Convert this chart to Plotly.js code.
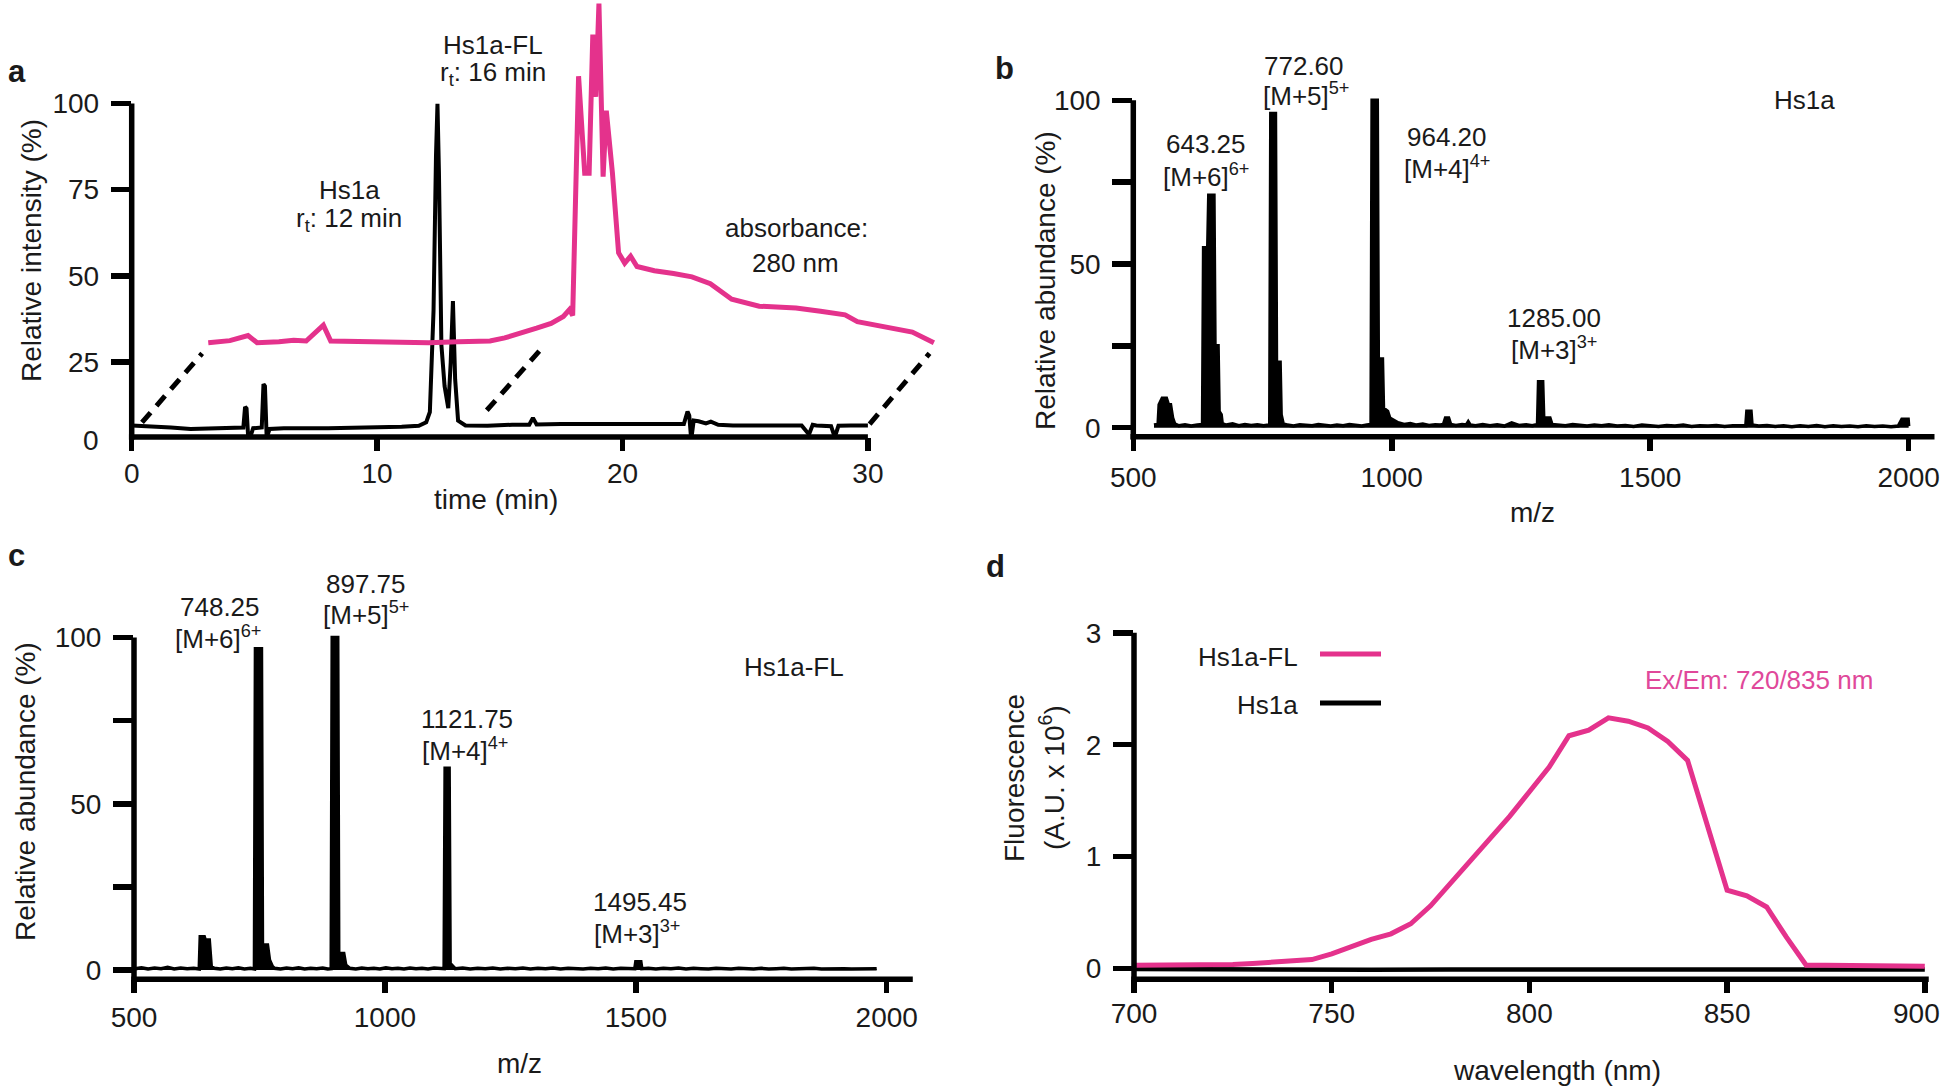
<!DOCTYPE html>
<html><head><meta charset="utf-8">
<script src="https://cdn.plot.ly/plotly-3.0.1.min.js"></script>
<style>html,body{margin:0;padding:0;background:#fff;}#chart{width:1946px;height:1088px;}</style>
</head><body><div id="chart"></div>
<script>
// ---------- Panel a: HPLC chromatogram ----------
const timeA = [0, 0.8, 1.6, 2.4, 3.2, 4.0, 4.55, 4.62, 4.68, 4.74, 4.82, 4.95, 5.2, 5.3, 5.37, 5.43, 5.5, 5.62, 6.2, 7.0, 8.0, 9.0, 10.0, 11.0, 11.7, 12.0, 12.15, 12.3, 12.4, 12.46, 12.52, 12.62, 12.75, 12.9, 13.0, 13.09, 13.18, 13.3, 13.6, 14.5, 15.5, 16.2, 16.35, 16.5, 17.5, 18.5, 19.5, 20.5, 21.5, 22.5, 22.65, 22.72, 22.8, 22.9, 23.1, 23.4, 23.6, 23.9, 24.5, 25.5, 26.5, 27.3, 27.6, 27.75, 27.9, 28.2, 28.5, 28.65, 28.8, 29.3, 30.0];
const intensityA = [6.6, 6.4, 6.0, 5.6, 5.7, 5.9, 6.0, 12.0, 11.5, 4.0, 3.0, 5.8, 5.8, 6.0, 18.6, 18.0, 3.0, 5.6, 5.8, 5.7, 5.8, 5.9, 6.0, 6.2, 6.5, 7.5, 10.5, 40, 85, 99.9, 80, 30, 18, 11.6, 25, 42.7, 20, 8, 6.6, 6.5, 6.8, 6.8, 8.8, 6.9, 7.0, 7.0, 6.9, 7.0, 6.9, 7.0, 10.6, 9.5, 2.5, 8.0, 7.8, 7.2, 7.7, 6.8, 6.6, 6.5, 6.6, 6.6, 4.0, 6.8, 6.6, 6.6, 6.4, 3.2, 6.5, 6.6, 6.6];
// absorbance trace (drawn offset, as in the figure)
const timeAbs = [3.12, 4.0, 4.74, 5.11, 6.0, 6.6, 7.11, 7.81, 8.11, 9.61, 10.8, 11.5, 12.10, 13.3, 14.60, 15.2, 15.84, 16.5, 17.09, 17.59, 17.84, 17.97, 18.21, 18.46, 18.64, 18.79, 18.91, 19.04, 19.21, 19.34, 19.59, 19.84, 20.09, 20.33, 20.59, 21.3, 22.08, 22.83, 23.58, 24.45, 25.57, 27.07, 28.07, 29.07, 29.57, 30.82, 31.81, 32.69];
const absorbance = [30.6, 31.2, 32.7, 30.6, 30.9, 31.3, 31.1, 35.7, 31.1, 31.0, 31.0, 30.8, 30.6, 30.9, 31.1, 32.0, 33.2, 34.8, 36.2, 38.2, 40.2, 38.5, 107.9, 79.8, 79.8, 120.0, 101.9, 129.0, 78.8, 97.9, 79.8, 56.7, 53.7, 55.7, 52.7, 51.5, 50.7, 49.7, 47.7, 43.2, 41.2, 40.7, 39.7, 38.7, 36.7, 35.2, 33.7, 30.6];
const guideX = [[0.42, 2.87], [14.47, 16.84], [30.07, 32.51]];
const guideY = [[7.5, 27.5], [11.0, 30.0], [7.0, 27.5]];

// ---------- Panel b: Hs1a mass spectrum ----------
const mzB = [540, 546, 548, 550, 556, 564, 568, 572, 576, 580, 588, 600, 612, 624, 634, 636, 644, 646, 656, 658, 664, 666, 670, 672, 680, 692, 704, 716, 728, 740, 752, 762, 764, 766, 775, 777, 784, 786, 790, 798, 810, 822, 834, 846, 858, 870, 882, 894, 906, 918, 930, 942, 952, 960, 962, 972, 974, 982, 984, 992, 996, 1005, 1012, 1024, 1036, 1048, 1060, 1072, 1084, 1094, 1100, 1104, 1110, 1114, 1124, 1136, 1144, 1148, 1152, 1162, 1176, 1190, 1204, 1218, 1232, 1246, 1260, 1272, 1282, 1284, 1292, 1294, 1306, 1310, 1322, 1336, 1350, 1364, 1378, 1392, 1406, 1420, 1436, 1452, 1468, 1484, 1500, 1516, 1532, 1548, 1564, 1580, 1596, 1612, 1628, 1644, 1660, 1676, 1685, 1687, 1695, 1697, 1710, 1726, 1742, 1758, 1774, 1790, 1806, 1822, 1838, 1854, 1870, 1886, 1902, 1918, 1934, 1950, 1966, 1980, 1987, 1999, 2000];
const abundB = [0.8, 1.0, 1.0, 7, 9, 9, 7, 7, 3, 1.2, 0.6, 0.9, 0.5, 0.8, 1, 55, 55, 71, 71, 25, 25, 5, 4, 1.2, 0.8, 1.2, 0.6, 1.0, 0.7, 0.9, 0.6, 0.8, 1, 96, 96, 20, 20, 4, 1.2, 0.8, 0.5, 0.9, 0.7, 0.6, 1.0, 0.7, 0.5, 0.8, 0.6, 1.0, 0.7, 0.5, 0.8, 1, 100, 100, 21, 21, 6, 5, 3, 2, 1.5, 1.0, 1.3, 0.8, 1.1, 0.7, 0.9, 0.8, 1, 3, 3, 1, 0.7, 1.0, 0.8, 1.8, 0.8, 0.6, 1.0, 0.6, 0.9, 0.5, 1.5, 0.7, 0.9, 0.6, 1, 14, 14, 3, 3, 1, 0.8, 0.6, 1.0, 0.7, 0.5, 0.8, 0.6, 0.9, 0.5, 0.7, 0.4, 0.8, 0.6, 0.4, 0.7, 0.5, 0.8, 0.4, 0.6, 0.5, 0.7, 0.4, 0.6, 0.5, 0.6, 5, 5, 0.8, 0.5, 0.7, 0.4, 0.6, 0.3, 0.6, 0.4, 0.7, 0.3, 0.6, 0.4, 0.5, 0.3, 0.6, 0.4, 0.5, 0.3, 0.5, 2.6, 2.6, 0.5];

// ---------- Panel c: Hs1a-FL mass spectrum ----------
const mzC = [502, 515, 528, 541, 554, 567, 580, 593, 606, 619, 630, 632, 640, 642, 650, 654, 660, 672, 684, 696, 708, 720, 732, 740, 742, 754, 756, 766, 770, 776, 780, 792, 804, 816, 828, 840, 852, 864, 876, 886, 893, 895, 906, 908, 918, 922, 930, 942, 954, 966, 978, 990, 1002, 1014, 1026, 1038, 1050, 1062, 1074, 1086, 1098, 1110, 1118, 1120, 1128, 1130, 1136, 1140, 1155, 1170, 1185, 1200, 1215, 1230, 1245, 1260, 1275, 1290, 1305, 1320, 1335, 1350, 1365, 1380, 1395, 1410, 1425, 1440, 1455, 1470, 1485, 1498, 1500, 1510, 1512, 1525, 1540, 1555, 1570, 1585, 1600, 1615, 1630, 1645, 1660, 1675, 1690, 1705, 1720, 1735, 1750, 1765, 1780, 1795, 1810, 1825, 1840, 1855, 1870, 1885, 1900, 1915, 1930, 1945, 1960, 1980];
const abundC = [0.4, 0.7, 0.3, 0.6, 0.4, 0.8, 0.3, 0.6, 0.4, 0.5, 0.3, 10, 10, 9, 9, 1, 0.5, 0.3, 0.6, 0.4, 0.7, 0.3, 0.5, 0.3, 96.6, 96.6, 7.5, 7.5, 3, 1, 0.5, 0.3, 0.6, 0.4, 0.7, 0.3, 0.5, 0.4, 0.6, 0.3, 0.4, 100, 100, 5, 5, 1.5, 0.5, 0.3, 0.6, 0.4, 0.5, 0.3, 0.7, 0.4, 0.5, 0.3, 0.6, 0.4, 0.5, 0.3, 0.6, 0.4, 0.4, 60.7, 60.7, 2, 1, 0.4, 0.6, 0.3, 0.5, 0.4, 0.6, 0.3, 0.5, 0.4, 0.6, 0.3, 0.5, 0.4, 0.6, 0.3, 0.5, 0.4, 0.3, 0.5, 0.4, 0.6, 0.3, 0.5, 0.4, 0.4, 2.5, 2.5, 0.4, 0.5, 0.3, 0.5, 0.4, 0.6, 0.3, 0.5, 0.4, 0.3, 0.5, 0.4, 0.3, 0.5, 0.4, 0.3, 0.5, 0.3, 0.4, 0.5, 0.3, 0.4, 0.3, 0.5, 0.3, 0.4, 0.3, 0.4, 0.3, 0.4, 0.3, 0.4, 0.3];

// ---------- Panel d: fluorescence emission ----------
const wavelength = [700, 705, 710, 715, 720, 725, 730, 735, 740, 745, 750, 755, 760, 765, 770, 775, 780, 785, 790, 795, 800, 805, 810, 815, 820, 825, 830, 835, 840, 845, 850, 855, 860, 865, 870, 875, 880, 885, 890, 895, 900];
const fluorFL = [0.03, 0.03, 0.03, 0.035, 0.035, 0.035, 0.045, 0.055, 0.065, 0.08, 0.13, 0.2, 0.26, 0.31, 0.40, 0.56, 0.76, 0.96, 1.15, 1.36, 1.58, 1.80, 2.08, 2.13, 2.24, 2.21, 2.15, 2.03, 1.86, 1.27, 0.70, 0.65, 0.55, 0.28, 0.03, 0.03, 0.03, 0.03, 0.025, 0.02, 0.02];
const wavelengthHs1a = [700, 720, 740, 760, 780, 800, 820, 840, 860, 880, 900];
const fluorHs1a = [-0.005, -0.01, -0.01, -0.012, -0.01, -0.01, -0.008, -0.01, -0.008, -0.01, -0.01];
const wlTicksLabelled = [700, 750, 800, 850];
const wlTickLast = 900;

// ---------- layout helpers ----------
const W = 1946, H = 1088;
const px = x => x / W, py = y => 1 - y / H;
const PINK = '#E4328C', INK = '#1a1a1a';
const FONT = 'Liberation Sans, Arial, Helvetica, sans-serif';

// panel geometry (pixel positions of axis origin/scale)
const A = {x0: 131.7, sx: 24.54, y0: 448.2, sy: 3.447, axisY: 437, left: 131.7, right: 945, top: 0};
const B = {x0: 1133.3, sx: 0.5169, xv: 500, y0: 427.7, sy: 3.274, axisY: 436.7, right: 1946, top: 90};
const C = {x0: 134, sx: 0.5018, xv: 500, y0: 970, sy: 3.325, axisY: 979.3, right: 946, top: 620};
const D = {x0: 1134, sx: 3.954, xv: 700, y0: 968.5, sy: 111.9, axisY: 979.3, right: 1946, top: 620};

function xAxis(domL, domR, r0, r1, anchor, tv, standoff, minorTv) {
  const o = {domain: [px(domL), px(domR)], range: [r0, r1], anchor: anchor, tickvals: tv,
    ticks: 'outside', ticklen: 13, tickwidth: 5.5, tickcolor: '#000', showline: false,
    zeroline: false, showgrid: false, ticklabelstandoff: standoff, ticklabeloverflow: 'allow',
    tickfont: {family: FONT, size: 28, color: INK}, fixedrange: true};
  if (minorTv) o.minor = {tickvals: minorTv, ticks: 'outside', ticklen: 13, tickwidth: 5.5, tickcolor: '#000', showgrid: false};
  return o;
}
function yAxis(domB, domT, r0, r1, anchor, tv, minorTv) {
  const o = {domain: [py(domB), py(domT)], range: [r0, r1], anchor: anchor, tickvals: tv,
    ticks: 'outside', ticklen: 20, tickwidth: 5.5, tickcolor: '#000', showline: false,
    zeroline: false, showgrid: false, ticklabelstandoff: 6, ticklabeloverflow: 'allow',
    tickfont: {family: FONT, size: 28, color: INK}, fixedrange: true};
  if (minorTv) o.minor = {tickvals: minorTv, ticks: 'outside', ticklen: 20, tickwidth: 5.5, tickcolor: '#000', showgrid: false};
  return o;
}

const traces = [];
// panel a
guideX.forEach((gx, i) => traces.push({x: gx, y: guideY[i], xaxis: 'x', yaxis: 'y', mode: 'lines',
  line: {color: '#000', width: 5, dash: '13px,9px'}, hoverinfo: 'skip'}));
traces.push({x: timeA, y: intensityA, xaxis: 'x', yaxis: 'y', mode: 'lines', name: 'Hs1a',
  line: {color: '#000', width: 4}});
traces.push({x: timeAbs, y: absorbance, xaxis: 'x', yaxis: 'y', mode: 'lines', name: 'absorbance 280 nm',
  line: {color: PINK, width: 5}});
// panel b
traces.push({x: mzB, y: abundB, xaxis: 'x2', yaxis: 'y2', mode: 'lines', name: 'Hs1a',
  line: {color: '#000', width: 3.5}, fill: 'tozeroy', fillcolor: '#000'});
// panel c
traces.push({x: mzC, y: abundC, xaxis: 'x3', yaxis: 'y3', mode: 'lines', name: 'Hs1a-FL',
  line: {color: '#000', width: 3.5}, fill: 'tozeroy', fillcolor: '#000'});
// panel d
traces.push({x: wavelengthHs1a, y: fluorHs1a, xaxis: 'x4', yaxis: 'y4', mode: 'lines', name: 'Hs1a',
  line: {color: '#000', width: 4.5}});
traces.push({x: wavelength, y: fluorFL, xaxis: 'x4', yaxis: 'y4', mode: 'lines', name: 'Hs1a-FL',
  line: {color: PINK, width: 5}});

// axis-line shapes (GraphPad style: offset x-axis, y-axis ending at top tick)
const LW = 5.5;
function line(x0, y0, x1, y1, color, w) {
  return {type: 'line', xref: 'paper', yref: 'paper', x0: px(x0), y0: py(y0), x1: px(x1), y1: py(y1),
    line: {color: color || '#000', width: w || LW}};
}
const shapes = [
  // a
  line(A.x0, A.y0 - 100 * A.sy, A.x0, A.axisY + LW / 2),
  line(A.x0 - LW / 2, A.axisY, A.x0 + 30 * A.sx, A.axisY),
  // b
  line(B.x0, B.y0 - 100 * B.sy, B.x0, B.axisY + LW / 2),
  line(B.x0 - LW / 2, B.axisY, B.x0 + (2050 - B.xv) * B.sx, B.axisY),
  // c
  line(C.x0, C.y0 - 100 * C.sy, C.x0, C.axisY + LW / 2),
  line(C.x0 - LW / 2, C.axisY, C.x0 + (2052 - C.xv) * C.sx, C.axisY),
  // d
  line(D.x0, D.y0 - 3 * D.sy, D.x0, D.axisY + LW / 2),
  line(D.x0 - LW / 2, D.axisY, D.x0 + (901 - D.xv) * D.sx, D.axisY),
  // d legend keys
  line(1320, 654, 1381, 654, PINK, 5),
  line(1320, 703, 1381, 703, '#000', 5)
];

function ann(text, x, y, o) {
  o = o || {};
  return Object.assign({text: text, xref: 'paper', yref: 'paper', x: px(x), y: py(y), showarrow: false,
    xanchor: 'center', yanchor: 'middle', font: {family: FONT, size: o.size || 26, color: o.color || INK}}, o.extra || {});
}
const bold = (t, x, y) => ann('<b>' + t + '</b>', x, y, {size: 31, extra: {xanchor: 'left'}});
const annotations = [
  // a
  bold('a', 6, 72),
  ann('Hs1a', 349, 190), ann('r<sub>t</sub>: 12 min', 349, 220),
  ann('Hs1a-FL', 493, 45), ann('r<sub>t</sub>: 16 min', 493, 74),
  ann('absorbance:', 796, 228), ann('280 nm', 795, 263),
  ann('0', 101, 440, {size: 28, extra: {xanchor: 'right'}}),
  ann('Relative intensity (%)', 31, 251, {size: 28, extra: {textangle: -90}}),
  ann('time (min)', 496, 499, {size: 28}),
  // b
  bold('b', 993, 68),
  ann('772.60', 1304, 66), ann('[M+5]<sup>5+</sup>', 1306, 94),
  ann('643.25', 1206, 144), ann('[M+6]<sup>6+</sup>', 1206, 175),
  ann('964.20', 1447, 137), ann('[M+4]<sup>4+</sup>', 1447, 167),
  ann('1285.00', 1554, 318), ann('[M+3]<sup>3+</sup>', 1554, 348),
  ann('Hs1a', 1804, 100),
  ann('Relative abundance (%)', 1045, 281, {size: 28, extra: {textangle: -90}}),
  ann('m/z', 1532, 512, {size: 28}),
  // c
  bold('c', 6, 555),
  ann('748.25', 220, 607), ann('[M+6]<sup>6+</sup>', 218, 637),
  ann('897.75', 366, 584), ann('[M+5]<sup>5+</sup>', 366, 613),
  ann('1121.75', 467, 719), ann('[M+4]<sup>4+</sup>', 465, 749),
  ann('1495.45', 640, 902), ann('[M+3]<sup>3+</sup>', 637, 932),
  ann('Hs1a-FL', 794, 667),
  ann('Relative abundance (%)', 25, 792, {size: 28, extra: {textangle: -90}}),
  ann('m/z', 519, 1063, {size: 28}),
  // d
  bold('d', 984, 566),
  ann('Hs1a-FL', 1300, 657, {extra: {xanchor: 'right'}}),
  ann('Hs1a', 1300, 705, {extra: {xanchor: 'right'}}),
  ann('Ex/Em: 720/835 nm', 1759, 680, {color: '#E0489A'}),
  ann('Fluorescence', 1014, 778, {size: 28, extra: {textangle: -90}}),
  ann('(A.U. x 10<sup>6</sup>)', 1052, 778, {size: 28, extra: {textangle: -90}}),
  ann('wavelength (nm)', 1557, 1070, {size: 28}),
  // last wavelength tick label, nudged inside the page edge as in the figure
  ann(String(wlTickLast), 1942, 1013, {size: 28, extra: {xanchor: 'right'}})
];

const layout = {
  width: W, height: H, margin: {l: 0, r: 0, t: 0, b: 0}, showlegend: false,
  paper_bgcolor: '#fff', plot_bgcolor: 'rgba(0,0,0,0)',
  font: {family: FONT, color: INK},
  xaxis: xAxis(A.left, A.right, 0, (A.right - A.x0) / A.sx, 'y', [0, 10, 20, 30], -2),
  yaxis: yAxis(A.axisY, A.top, (A.y0 - A.axisY) / A.sy, (A.y0 - A.top) / A.sy, 'x', [25, 50, 75, 100]),
  xaxis2: xAxis(B.x0, B.right, B.xv, B.xv + (B.right - B.x0) / B.sx, 'y2', [500, 1000, 1500, 2000], 3),
  yaxis2: yAxis(B.axisY, B.top, (B.y0 - B.axisY) / B.sy, (B.y0 - B.top) / B.sy, 'x2', [0, 50, 100], [25, 75]),
  xaxis3: xAxis(C.x0, C.right, C.xv, C.xv + (C.right - C.x0) / C.sx, 'y3', [500, 1000, 1500, 2000], 0),
  yaxis3: yAxis(C.axisY, C.top, (C.y0 - C.axisY) / C.sy, (C.y0 - C.top) / C.sy, 'x3', [0, 50, 100], [25, 75]),
  xaxis4: xAxis(D.x0, D.right, D.xv, D.xv + (D.right - D.x0) / D.sx, 'y4', wlTicksLabelled, -4, [wlTickLast]),
  yaxis4: yAxis(D.axisY, D.top, (D.y0 - D.axisY) / D.sy, (D.y0 - D.top) / D.sy, 'x4', [0, 1, 2, 3]),
  shapes: shapes,
  annotations: annotations
};

Plotly.newPlot('chart', traces, layout, {staticPlot: true, displayModeBar: false});
</script></body></html>
